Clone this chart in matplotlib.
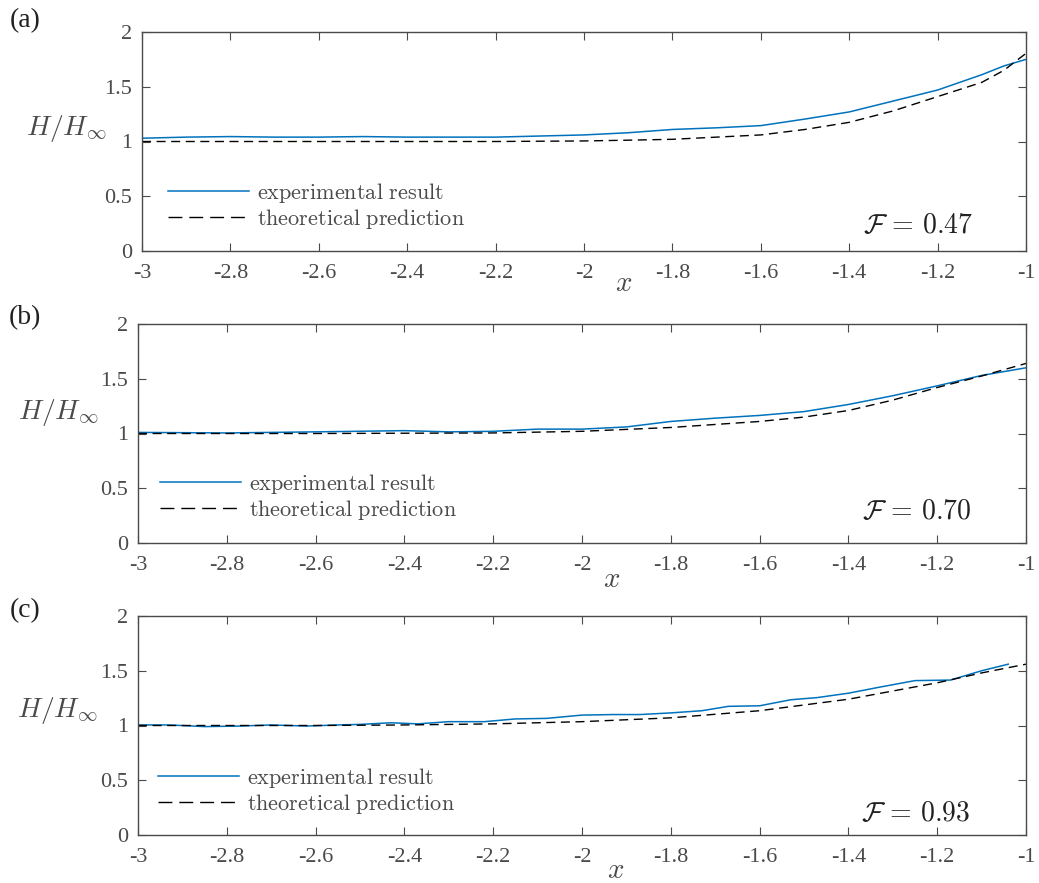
import matplotlib
matplotlib.use('Agg')
import matplotlib.pyplot as plt
import numpy as np

plt.rcParams['font.family'] = ['Liberation Serif', 'DejaVu Serif']
plt.rcParams['mathtext.fontset'] = 'cm'
plt.rcParams['axes.unicode_minus'] = False

# panel (a), F = 0.47
xa_exp = [-3.0, -2.9, -2.8, -2.7, -2.6, -2.5, -2.4, -2.3, -2.2, -2.1, -2.0, -1.9, -1.8,
          -1.7, -1.6, -1.5, -1.4, -1.3, -1.2, -1.1, -1.05, -1.0]
ya_exp = [1.03, 1.04, 1.045, 1.04, 1.04, 1.045, 1.04, 1.04, 1.04, 1.05, 1.06, 1.08, 1.11,
          1.125, 1.145, 1.205, 1.27, 1.37, 1.47, 1.61, 1.69, 1.75]
xa_th = [-3.0, -2.5, -2.2, -2.0, -1.9, -1.8, -1.7, -1.6, -1.5, -1.4, -1.3, -1.2, -1.1, -1.05, -1.0]
ya_th = [1.0, 1.0, 1.0, 1.005, 1.012, 1.02, 1.04, 1.06, 1.11, 1.175, 1.28, 1.41, 1.54, 1.65, 1.805]

# panel (b), F = 0.70
xb_exp = [-3.0, -2.8, -2.6, -2.4, -2.3, -2.2, -2.1, -2.0, -1.9, -1.8, -1.7, -1.6, -1.5,
          -1.4, -1.3, -1.2, -1.1, -1.0]
yb_exp = [1.01, 1.005, 1.015, 1.026, 1.015, 1.02, 1.04, 1.04, 1.06, 1.11, 1.14, 1.165, 1.2,
          1.265, 1.345, 1.435, 1.53, 1.60]
xb_th = [-3.0, -2.6, -2.2, -2.0, -1.8, -1.6, -1.5, -1.4, -1.3, -1.2, -1.1, -1.0]
yb_th = [1.0, 1.0, 1.005, 1.02, 1.055, 1.11, 1.15, 1.21, 1.305, 1.42, 1.525, 1.64]

# panel (c), F = 0.93
xc_exp = [-3.0, -2.93, -2.85, -2.77, -2.7, -2.62, -2.55, -2.5, -2.43, -2.37, -2.3, -2.22,
          -2.15, -2.08, -2.0, -1.93, -1.87, -1.8, -1.73, -1.67, -1.6, -1.53, -1.47, -1.4,
          -1.33, -1.25, -1.17, -1.1, -1.04]
yc_exp = [1.005, 1.005, 0.99, 0.995, 1.005, 0.995, 1.005, 1.01, 1.025, 1.015, 1.035, 1.035,
          1.06, 1.065, 1.095, 1.1, 1.1, 1.115, 1.135, 1.175, 1.18, 1.235, 1.255, 1.295,
          1.35, 1.41, 1.415, 1.5, 1.56]
xc_th = [-3.0, -2.6, -2.4, -2.2, -2.0, -1.8, -1.6, -1.4, -1.2, -1.1, -1.0]
yc_th = [1.0, 1.0, 1.005, 1.015, 1.035, 1.07, 1.135, 1.24, 1.39, 1.48, 1.56]

panel_tags = ['(a)', '(b)', '(c)']
froude = ['0.47', '0.70', '0.93']
xticks = [-3, -2.8, -2.6, -2.4, -2.2, -2, -1.8, -1.6, -1.4, -1.2, -1]
xticklabels = ['-3', '-2.8', '-2.6', '-2.4', '-2.2', '-2', '-1.8', '-1.6', '-1.4', '-1.2', '-1']
yticks = [0, 0.5, 1, 1.5, 2]
yticklabels = ['0', '0.5', '1', '1.5', '2']

exp_data = [(xa_exp, ya_exp), (xb_exp, yb_exp), (xc_exp, yc_exp)]
th_data = [(xa_th, ya_th), (xb_th, yb_th), (xc_th, yc_th)]

fig = plt.figure(figsize=(10.39, 8.83), dpi=100)
W, H = 1039, 883
# axes boxes in pixels: left, top, right, bottom
boxes = [(142, 32, 1026, 251), (138, 324, 1026, 543), (138, 616, 1026, 835)]
xlab_pos = [(624, 284), (612, 580), (616, 871)]
ylab_pos = [(66, 128), (58, 413), (57, 710)]
tag_pos = [(25, 21), (25, 318), (25, 611)]
leg_pos = [(168, 206), (160, 497), (158, 791)]
f_pos = [(973, 227), (972, 513), (970, 814)]

grey = '#4a4a4a'
for i in range(3):
    l, t, r, b = boxes[i]
    ax = fig.add_axes([l / W, 1 - b / H, (r - l) / W, (b - t) / H])
    ax.plot(exp_data[i][0], exp_data[i][1], color='#0072BD', lw=1.1,
            label='$\\mathrm{experimental\\ result}$')
    ax.plot(th_data[i][0], th_data[i][1], color='black', lw=1.0, dashes=(6.5, 4),
            label='$\\mathrm{theoretical\\ prediction}$')
    ax.set_xlim(-3, -1)
    ax.set_ylim(0, 2)
    ax.set_xticks(xticks)
    ax.set_xticklabels(xticklabels)
    ax.set_yticks(yticks)
    ax.set_yticklabels(yticklabels)
    ax.tick_params(direction='in', length=6, width=0.8, top=True, right=True,
                   labelsize=16, colors=grey, labelcolor=grey)
    ax.tick_params(axis='x', pad=9)
    ax.tick_params(axis='y', pad=7)
    for s in ax.spines.values():
        s.set_color(grey)
        s.set_linewidth(1.0)

    ax.set_xlabel('$x$', fontsize=21, color=grey)
    ax.xaxis.set_label_coords((xlab_pos[i][0] - l) / (r - l), (b - xlab_pos[i][1]) / (b - t))
    ax.xaxis.label.set_va('center')
    ax.set_ylabel('$H/H_\\infty$', fontsize=20, color=grey, rotation=0)
    ax.yaxis.set_label_coords((ylab_pos[i][0] - l) / (r - l), (b - ylab_pos[i][1]) / (b - t))
    ax.yaxis.label.set_va('center')
    ax.yaxis.label.set_ha('center')

    leg = ax.legend(loc='center left', frameon=False, fontsize=16,
                    bbox_to_anchor=((leg_pos[i][0] - l) / (r - l), (b - leg_pos[i][1]) / (b - t)),
                    borderaxespad=0, borderpad=0, handlelength=3.65, handletextpad=0.35,
                    labelspacing=0.1)
    leg.legend_handles[1].set_dashes((10, 5))
    for txt in leg.get_texts():
        txt.set_color(grey)

    ax.text((f_pos[i][0] - l) / (r - l), (b - f_pos[i][1]) / (b - t),
            '$\\mathcal{F}\\,=\\,$' + '$' + froude[i] + '$', transform=ax.transAxes,
            ha='right', va='center', fontsize=20, color='#222222')
    fig.text(tag_pos[i][0] / W, 1 - tag_pos[i][1] / H, panel_tags[i], fontsize=20,
             ha='center', va='center', color='#222222')

fig.savefig('out.png', dpi=100)
